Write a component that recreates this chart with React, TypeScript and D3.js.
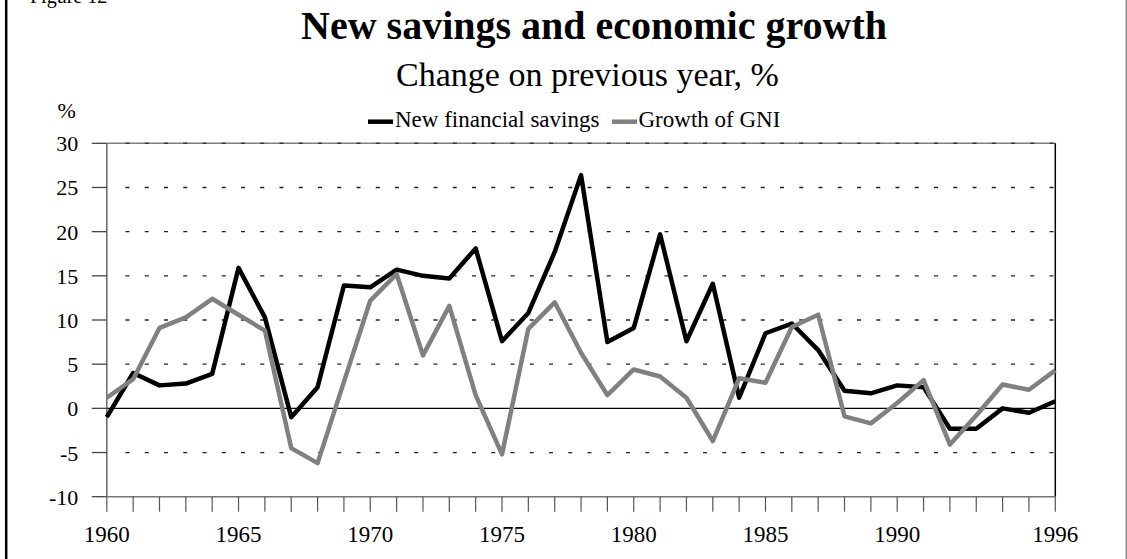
import React from "react";
import * as d3 from "d3";

const years: number[] = [
  1960, 1961, 1962, 1963, 1964, 1965, 1966, 1967, 1968, 1969,
  1970, 1971, 1972, 1973, 1974, 1975, 1976, 1977, 1978, 1979,
  1980, 1981, 1982, 1983, 1984, 1985, 1986, 1987, 1988, 1989,
  1990, 1991, 1992, 1993, 1994, 1995, 1996,
];

const newFinancialSavings: number[] = [
  -1.0, 4.0, 2.6, 2.8, 3.9, 15.9, 10.3, -1.0, 2.4, 13.9,
  13.7, 15.7, 15.0, 14.7, 18.1, 7.6, 10.8, 17.7, 26.4, 7.5,
  9.1, 19.7, 7.6, 14.1, 1.2, 8.5, 9.6, 6.6, 2.0, 1.7,
  2.6, 2.4, -2.3, -2.3, 0.0, -0.5, 0.8,
];

const growthOfGNI: number[] = [
  1.2, 3.3, 9.1, 10.3, 12.4, 10.6, 8.8, -4.5, -6.2, 3.0,
  12.2, 15.2, 6.0, 11.6, 1.5, -5.2, 9.0, 12.0, 6.3, 1.5,
  4.4, 3.6, 1.2, -3.7, 3.4, 2.9, 9.2, 10.6, -0.9, -1.7,
  0.6, 3.2, -4.1, -0.8, 2.7, 2.1, 4.3,
];

const yTicks: number[] = [-10, -5, 0, 5, 10, 15, 20, 25, 30];
const xTickLabels: number[] = [1960, 1965, 1970, 1975, 1980, 1985, 1990, 1996];

const seriesNames: string[] = ["New financial savings", "Growth of GNI"];
const seriesColors: string[] = ["#000000", "#808080"];

const FONT = '"Liberation Serif", "Times New Roman", Times, serif';

export default function App() {
  const W = 1127;
  const H = 559;
  const left = 106.8;
  const right = 1055.3;
  const top = 143.3;
  const bottom = 496.7;

  const x = d3.scaleLinear().domain([1960, 1996]).range([left, right]);
  const y = d3.scaleLinear().domain([-10, 30]).range([bottom, top]);

  const line = d3
    .line<number>()
    .x((_, i) => x(years[i]))
    .y((d) => y(d));

  const gridDashStart = 125.5;

  return (
    <svg
      width={W}
      height={H}
      style={{ position: "absolute", left: 0, top: 0, background: "#fff" }}
      fontFamily={FONT}
    >
      <rect x={0} y={0} width={W} height={H} fill="#fff" />
      {/* outer frame */}
      <line x1={6.2} y1={-10} x2={6.2} y2={H + 10} stroke="#000" strokeWidth={2.5} />
      <line x1={1126.3} y1={-10} x2={1126.3} y2={H + 10} stroke="#888" strokeWidth={1.5} />

      <text x={30} y={3} fontSize={20} fill="#000">Figure 12</text>

      {/* titles */}
      <text x={594} y={38.5} fontSize={40} fontWeight="bold" textAnchor="middle" fill="#000">
        New savings and economic growth
      </text>
      <text x={587.5} y={86} fontSize={34} textAnchor="middle" fill="#000">
        Change on previous year, %
      </text>

      <text x={66.7} y={118} fontSize={22} textAnchor="middle" fill="#000">%</text>

      {/* legend */}
      <line x1={368} y1={121.7} x2={393} y2={121.7} stroke={seriesColors[0]} strokeWidth={4.5} />
      <text x={395} y={126.5} fontSize={23} fill="#000">{seriesNames[0]}</text>
      <line x1={612} y1={121.7} x2={637} y2={121.7} stroke={seriesColors[1]} strokeWidth={4.5} />
      <text x={638.5} y={126.5} fontSize={23} fill="#000">{seriesNames[1]}</text>

      {/* gridlines */}
      {yTicks
        .filter((t) => t !== 0 && t !== -10)
        .map((t) => (
          <line
            key={"g" + t}
            x1={gridDashStart}
            x2={right}
            y1={y(t)}
            y2={y(t)}
            stroke="#222"
            strokeWidth={1.3}
            strokeDasharray="4 15.25"
          />
        ))}

      {/* plot top border */}
      <line x1={left} x2={right} y1={top} y2={top} stroke="#808080" strokeWidth={1.5} />
      <line
        x1={gridDashStart}
        x2={right}
        y1={top}
        y2={top}
        stroke="#333"
        strokeWidth={1.3}
        strokeDasharray="4 15.25"
      />
      {/* right border */}
      <line x1={right} x2={right} y1={top} y2={bottom} stroke="#000" strokeWidth={1.5} />

      {/* zero line */}
      <line x1={left} x2={right} y1={y(0)} y2={y(0)} stroke="#000" strokeWidth={1.2} />

      {/* y axis */}
      <line x1={left} x2={left} y1={top} y2={bottom} stroke="#666" strokeWidth={1.5} />
      {yTicks.map((t) => (
        <g key={"y" + t}>
          <line x1={left - 15} x2={left} y1={y(t)} y2={y(t)} stroke="#444" strokeWidth={1.3} />
          <text x={78.3} y={y(t) + 8} fontSize={22} textAnchor="end" fill="#000">
            {t}
          </text>
        </g>
      ))}

      {/* x axis */}
      <line x1={left} x2={right} y1={bottom} y2={bottom} stroke="#777" strokeWidth={1.5} />
      {years.map((yr) => (
        <line
          key={"xt" + yr}
          x1={x(yr)}
          x2={x(yr)}
          y1={bottom}
          y2={bottom + 15}
          stroke="#555"
          strokeWidth={1.2}
        />
      ))}
      {xTickLabels.map((yr) => (
        <text key={"xl" + yr} x={x(yr)} y={541.5} fontSize={23} textAnchor="middle" fill="#000">
          {yr}
        </text>
      ))}

      {/* series */}
      <path
        d={line(newFinancialSavings) || ""}
        fill="none"
        stroke={seriesColors[0]}
        strokeWidth={4.5}
        strokeLinejoin="round"
      />
      <path
        d={line(growthOfGNI) || ""}
        fill="none"
        stroke={seriesColors[1]}
        strokeWidth={4.5}
        strokeLinejoin="round"
      />
    </svg>
  );
}
